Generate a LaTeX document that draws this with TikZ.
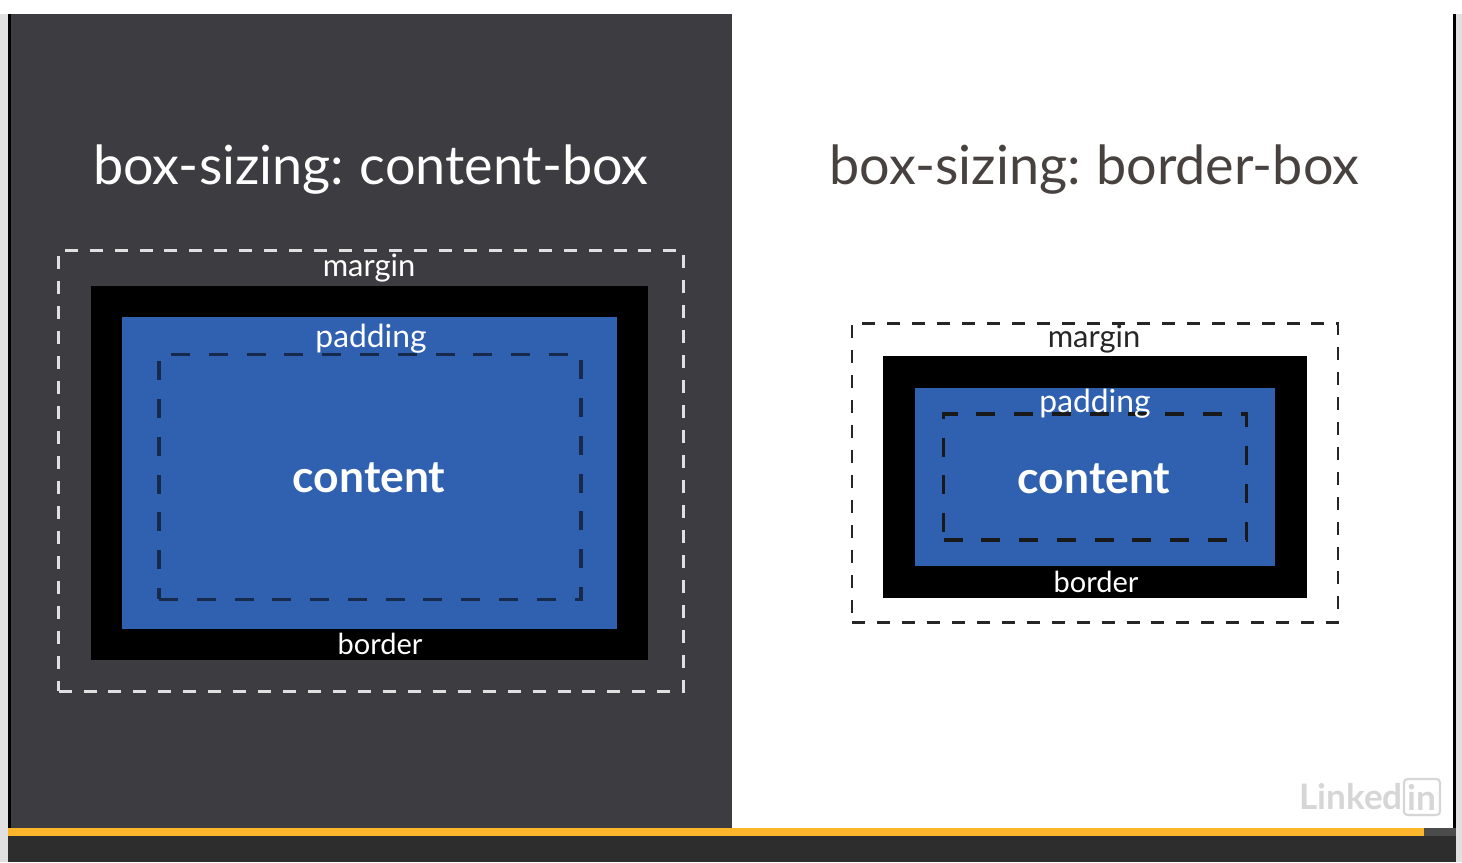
\documentclass[tikz,border=0pt]{standalone}
\usepackage{fontspec}
\setmainfont[WordSpace=0.8]{Lato}
\usetikzlibrary{positioning}
\definecolor{slatebg}{HTML}{3D3C40}
\definecolor{boxblue}{HTML}{3060B0}
\definecolor{barorange}{HTML}{FDB52B}
\definecolor{barbase}{HTML}{2D2D2D}
\definecolor{edgegray}{HTML}{E0E0E0}
\definecolor{logogray}{HTML}{D6D6D6}
\definecolor{titlegray}{HTML}{47423F}
\definecolor{dashnavy}{HTML}{182A4C}

\begin{document}
\begin{tikzpicture}[
  x=0.02cm, y=-0.02cm,
  panel/.style={
    fill=#1, draw=none, inner sep=0pt, anchor=north west
  },
  margbox/.style={
    draw=#1, line width=1.4pt, dash pattern=on 7.4pt off 6.8pt,
    inner sep=0pt
  },
  borderbox/.style={
    fill=black, draw=none, inner sep=0pt
  },
  paddbox/.style={
    fill=boxblue, draw=none, inner sep=0pt
  },
  contbox/.style={
    draw=dashnavy, line width=1.9pt, dash pattern=on 10.8pt off 10.7pt,
    inner sep=0pt
  },
  heading/.style={
    font=\fontsize{30.7}{31}\selectfont, text=#1, inner sep=0pt
  },
  margtag/.style={
    font=\fontsize{17.6}{18}\selectfont, text=#1, inner sep=0pt
  },
  paddtag/.style={
    font=\fontsize{18.1}{18}\selectfont, text=white, inner sep=0pt
  },
  bordtag/.style={
    font=\fontsize{16.5}{17}\selectfont, text=white, inner sep=0pt
  },
  bigtag/.style={
    font=\fontsize{25.3}{25}\selectfont\bfseries, text=white, inner sep=0pt
  },
]
\useasboundingbox (0,0) rectangle (1462,862);

% Page edges and panels
\node[panel=edgegray, minimum width=29.24cm, minimum height=17.24cm] (page) at (0,0) {};
\node[panel=white, minimum width=29.24cm, minimum height=0.28cm] (topstrip) at (0,0) {};
\node[panel=black, minimum width=0.06cm, minimum height=16.28cm] (leftline) at (8,14) {};
\node[panel=slatebg, minimum width=14.42cm, minimum height=16.28cm] (darkpanel) at (11,14) {};
\node[panel=white, minimum width=14.42cm, minimum height=16.28cm] (lightpanel) at (732,14) {};
\node[panel=black, minimum width=0.06cm, minimum height=16.28cm] (rightline) at (1453,14) {};

% Player bar
\node[panel=barorange, minimum width=28.32cm, minimum height=0.16cm] (progress) at (8,828) {};
\node[panel=barbase!85!white, minimum width=0.64cm, minimum height=0.16cm] (rest) at (1424,828) {};
\node[panel=barbase, minimum width=28.96cm, minimum height=0.52cm] (playbar) at (8,836) {};

% Left: content-box
\node[heading=white] (ltitle) at (371,170) {box-sizing: content-box};
\node[margbox=white!88!black, minimum width=12.50cm, minimum height=8.82cm] (lmargin) at (371,471) {};
\node[borderbox, minimum width=11.16cm, minimum height=7.50cm] (lborder) at (369.5,473) {};
\node[paddbox, minimum width=9.90cm, minimum height=6.24cm] (lpadding) at (369.5,473) {};
\node[contbox, minimum width=8.44cm, minimum height=4.90cm] (lcontent) at (370,477) {};
\node[margtag=white] (lmargtag) at (369,268.5) {margin};
\node[paddtag] (lpaddtag) at (371,339) {padding};
\node[bigtag] (lconttag) at (369,478) {content};
\node[bordtag] (lbordtag) at (380,644) {border};

% Right: border-box
\node[heading=titlegray] (rtitle) at (1094.5,170) {box-sizing: border-box};
\node[margbox=black!85, minimum width=9.72cm, minimum height=5.98cm] (rmargin) at (1095,473) {};
\node[borderbox, minimum width=8.50cm, minimum height=4.86cm] (rborder) at (1095,477) {};
\node[paddbox, minimum width=7.22cm, minimum height=3.58cm] (rpadding) at (1095,477) {};
\node[contbox, draw=black!90, minimum width=6.06cm, minimum height=2.52cm] (rcontent) at (1095,477) {};
\node[margtag=black!85] (rmargtag) at (1094,339) {margin};
\node[paddtag] (rpaddtag) at (1095,404) {padding};
\node[bigtag] (rconttag) at (1094,479) {content};
\node[bordtag] (rbordtag) at (1096,582) {border};

% Logo
\node[font=\fontsize{20}{20}\selectfont\bfseries, text=logogray, inner sep=0pt] (logoword) at (1351,797) {Linked};
\node[draw=logogray, line width=1.2pt, rounded corners=2pt, minimum width=0.72cm, minimum height=0.72cm,
  font=\fontsize{20}{20}\selectfont\bfseries, text=logogray, inner sep=0pt] (logoin) at (1422,797) {in};

\end{tikzpicture}
\end{document}
